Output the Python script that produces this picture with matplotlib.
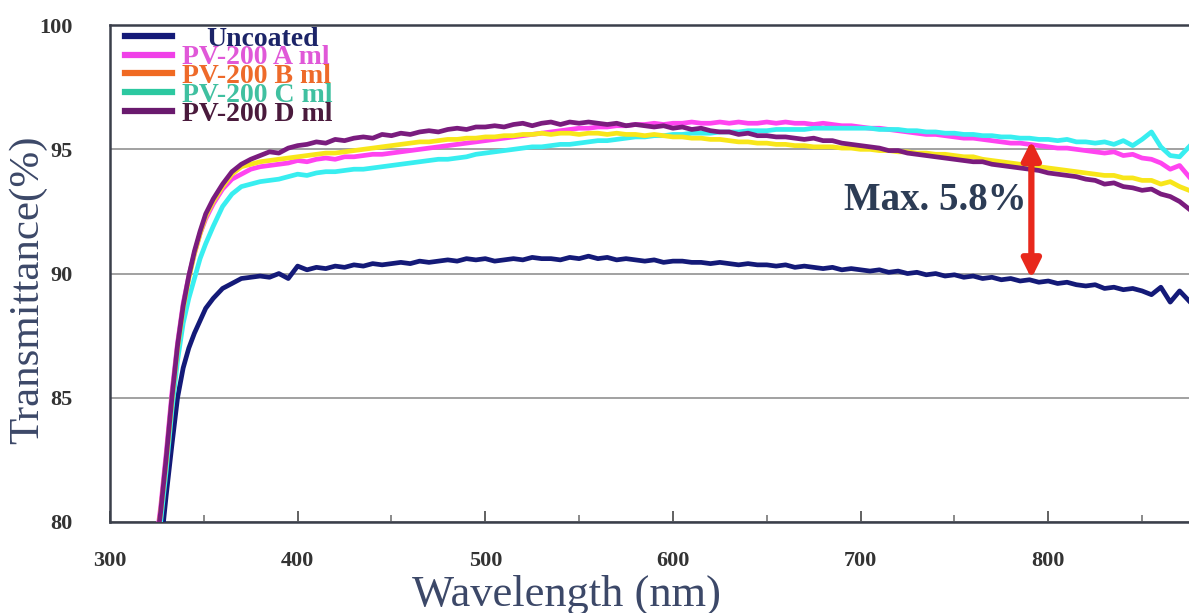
import matplotlib
matplotlib.use('Agg')
import matplotlib.pyplot as plt
from matplotlib.lines import Line2D
from matplotlib.transforms import Affine2D

plt.rcParams['font.family'] = ['Liberation Serif', 'DejaVu Serif']

# wavelength grid (nm): finer steps on the absorption edge, then every 5 nm
WAVELENGTH = [324, 327, 330, 333, 336, 339, 342, 345, 348, 351, 355, 360, 365, 370, 375] + list(range(380, 880, 5))

UNCOATED = [77.0, 78.9, 81.1, 83.1, 85.0, 86.2, 87.0, 87.6, 88.1, 88.6, 89.0, 89.4, 89.6, 89.8, 89.85,
            89.9, 89.85, 90.0, 89.8, 90.3,
            90.15, 90.25, 90.2, 90.3, 90.25, 90.35, 90.3, 90.4, 90.35, 90.4,
            90.45, 90.4, 90.5, 90.45, 90.5, 90.55, 90.5, 90.6, 90.55, 90.6,
            90.5, 90.55, 90.6, 90.55, 90.65, 90.6, 90.6, 90.55, 90.65, 90.6,
            90.7, 90.6, 90.65, 90.55, 90.6, 90.55, 90.5, 90.55, 90.45, 90.5,
            90.5, 90.45, 90.45, 90.4, 90.45, 90.4, 90.35, 90.4, 90.35, 90.35,
            90.3, 90.35, 90.25, 90.3, 90.25, 90.2, 90.25, 90.15, 90.2, 90.15,
            90.1, 90.15, 90.05, 90.1, 90.0, 90.05, 89.95, 90.0, 89.9, 89.95,
            89.85, 89.9, 89.8, 89.85, 89.75, 89.8, 89.7, 89.75, 89.65, 89.7,
            89.6, 89.65, 89.55, 89.5, 89.55, 89.4, 89.45, 89.35, 89.4, 89.3,
            89.15, 89.45, 88.85, 89.3, 88.9]

PV_A = [78.8, 80.6, 82.8, 85.2, 87.2, 88.8, 89.9, 90.8, 91.6, 92.2, 92.8, 93.4, 93.8, 94.0, 94.2,
        94.3, 94.35, 94.4, 94.45, 94.55,
        94.5, 94.6, 94.65, 94.6, 94.7, 94.7, 94.75, 94.8, 94.8, 94.85,
        94.9, 94.95, 95.0, 95.05, 95.1, 95.15, 95.2, 95.25, 95.3, 95.35,
        95.4, 95.45, 95.5, 95.55, 95.6, 95.65, 95.7, 95.75, 95.8, 95.85,
        95.85, 95.9, 95.9, 95.95, 95.95, 96.0, 96.0, 96.05, 96.0, 96.05,
        96.05, 96.1, 96.05, 96.05, 96.1, 96.05, 96.1, 96.05, 96.05, 96.1,
        96.05, 96.1, 96.05, 96.05, 96.0, 96.05, 96.0, 95.95, 95.95, 95.9,
        95.85, 95.85, 95.8, 95.75, 95.7, 95.65, 95.6, 95.6, 95.55, 95.5,
        95.45, 95.45, 95.4, 95.35, 95.3, 95.25, 95.25, 95.2, 95.15, 95.1,
        95.05, 95.05, 95.0, 94.95, 94.9, 94.85, 94.9, 94.75, 94.8, 94.65,
        94.6, 94.45, 94.2, 94.35, 93.9]

PV_B = [78.6, 80.4, 82.5, 84.9, 87.0, 88.6, 89.8, 90.8, 91.6, 92.3, 92.9, 93.5, 94.0, 94.3, 94.4,
        94.5, 94.55, 94.6, 94.65, 94.7,
        94.75, 94.8, 94.85, 94.85, 94.9, 94.95, 95.0, 95.05, 95.1, 95.15,
        95.2, 95.25, 95.3, 95.3, 95.35, 95.4, 95.4, 95.45, 95.45, 95.5,
        95.5, 95.55, 95.55, 95.6, 95.6, 95.65, 95.6, 95.65, 95.65, 95.6,
        95.65, 95.65, 95.6, 95.65, 95.6, 95.6, 95.55, 95.6, 95.55, 95.5,
        95.5, 95.45, 95.45, 95.4, 95.4, 95.35, 95.3, 95.3, 95.25, 95.25,
        95.2, 95.2, 95.15, 95.15, 95.1, 95.1, 95.1, 95.05, 95.05, 95.0,
        95.0, 94.95, 94.95, 94.9, 94.9, 94.85, 94.85, 94.8, 94.8, 94.75,
        94.7, 94.7, 94.6, 94.55, 94.5, 94.45, 94.4, 94.35, 94.3, 94.25,
        94.2, 94.15, 94.1, 94.05, 94.0, 93.95, 93.95, 93.85, 93.85, 93.75,
        93.75, 93.6, 93.7, 93.5, 93.35]

PV_C = [78.3, 80.0, 82.1, 84.5, 86.5, 88.0, 89.0, 89.8, 90.6, 91.2, 91.9, 92.7, 93.2, 93.5, 93.6,
        93.7, 93.75, 93.8, 93.9, 94.0,
        93.95, 94.05, 94.1, 94.1, 94.15, 94.2, 94.2, 94.25, 94.3, 94.35,
        94.4, 94.45, 94.5, 94.55, 94.6, 94.6, 94.65, 94.7, 94.8, 94.85,
        94.9, 94.95, 95.0, 95.05, 95.1, 95.1, 95.15, 95.2, 95.2, 95.25,
        95.3, 95.35, 95.35, 95.4, 95.45, 95.5, 95.5, 95.55, 95.55, 95.6,
        95.6, 95.65, 95.65, 95.65, 95.7, 95.7, 95.7, 95.75, 95.75, 95.75,
        95.8, 95.8, 95.8, 95.8, 95.85, 95.85, 95.85, 95.85, 95.85, 95.85,
        95.85, 95.8, 95.8, 95.8, 95.75, 95.75, 95.7, 95.7, 95.65, 95.65,
        95.6, 95.6, 95.55, 95.55, 95.5, 95.5, 95.45, 95.45, 95.4, 95.4,
        95.35, 95.4, 95.3, 95.3, 95.25, 95.3, 95.2, 95.35, 95.15, 95.4,
        95.7, 95.1, 94.75, 94.7, 95.1]

PV_D = [78.6, 80.4, 82.6, 85.0, 87.1, 88.7, 89.9, 90.9, 91.7, 92.4, 93.0, 93.6, 94.1, 94.4, 94.6,
        94.75, 94.9, 94.85, 95.05, 95.15,
        95.2, 95.3, 95.25, 95.4, 95.35, 95.45, 95.5, 95.45, 95.6, 95.55,
        95.65, 95.6, 95.7, 95.75, 95.7, 95.8, 95.85, 95.8, 95.9, 95.9,
        95.95, 95.9, 96.0, 96.05, 95.95, 96.05, 96.1, 96.0, 96.1, 96.05,
        96.1, 96.05, 96.0, 96.05, 95.95, 96.0, 95.95, 95.9, 95.95, 95.85,
        95.9, 95.8, 95.85, 95.75, 95.7, 95.7, 95.6, 95.65, 95.55, 95.55,
        95.5, 95.5, 95.45, 95.4, 95.45, 95.35, 95.35, 95.25, 95.2, 95.15,
        95.1, 95.05, 94.95, 94.95, 94.85, 94.8, 94.75, 94.7, 94.65, 94.6,
        94.55, 94.5, 94.5, 94.4, 94.35, 94.3, 94.25, 94.2, 94.15, 94.05,
        94.0, 93.95, 93.9, 93.8, 93.75, 93.6, 93.65, 93.5, 93.45, 93.35,
        93.4, 93.2, 93.1, 92.9, 92.6]

LABELS = ['Uncoated', 'PV-200 A ml', 'PV-200 B ml', 'PV-200 C ml', 'PV-200 D ml']
CURVE_COLORS = ['#141a78', '#ff44f0', '#f8e61a', '#38eef0', '#7a1c7e']
LEGEND_COLORS = ['#141a78', '#f040e8', '#f06a22', '#2cc8a0', '#6a1a6e']
TEXT_COLORS = ['#1c2468', '#e058d8', '#ee6a2a', '#40c0a0', '#4a1a3c']

ARROW_X = 791
ARROW_TOP = 95.35
ARROW_BOTTOM = 89.8

fig = plt.figure(figsize=(11.89, 6.13), dpi=100)
ax = fig.add_axes([0.0925, 0.1485, 0.9075, 0.8105])

series = [UNCOATED, PV_A, PV_C, PV_B, PV_D]
colors = [CURVE_COLORS[0], CURVE_COLORS[1], CURVE_COLORS[3], CURVE_COLORS[2], CURVE_COLORS[4]]
for vals, c in zip(series, colors):
    ax.plot(WAVELENGTH, vals, color=c, lw=3.4, solid_joinstyle='round', zorder=3)

ax.set_xlim(300, 875)
ax.set_ylim(80, 100)
ax.set_xticks([300, 400, 500, 600, 700, 800])
ax.set_xticks([350, 450, 550, 650, 750, 850], minor=True)
ax.set_yticks([80, 85, 90, 95, 100])
ax.set_yticklabels(['80', '85', '90', '95', '100'])
ax.grid(axis='y', color='#9a9a9a', lw=1.3, zorder=1)

for side in ['left', 'bottom', 'top']:
    ax.spines[side].set_color('#3a3f4a')
    ax.spines[side].set_linewidth(1.8)
ax.spines['right'].set_visible(False)

ax.tick_params(axis='x', which='major', direction='in', length=8, width=1.3, color='#555555',
               pad=21, labelsize=16, labelcolor='#333333')
ax.tick_params(axis='x', which='minor', direction='in', length=5, width=1.2, color='#777777')
ax.tick_params(axis='y', length=0, pad=27, labelsize=16, labelcolor='#333333')
for lab in ax.get_xticklabels() + ax.get_yticklabels():
    lab.set_fontweight('bold')

ax.set_xlabel('Wavelength (nm)', fontsize=32, color='#3c4868')
ax.set_ylabel('Transmittance(%)', fontsize=31, color='#3c4868')
ax.xaxis.set_label_coords(0.4235, -0.106)
ax.yaxis.set_label_coords(-0.058, 0.467)

# red double arrow showing the maximum gain
ax.annotate('', xy=(ARROW_X, ARROW_BOTTOM), xytext=(ARROW_X, ARROW_TOP),
            arrowprops=dict(arrowstyle='<|-|>,head_length=1.1,head_width=0.55',
                            color='#e8281c', lw=4.5, shrinkA=0, shrinkB=0), zorder=5)
ax.text(740, 92.95, 'Max. 5.8%', fontsize=28, fontweight='bold', color='#2c3c55',
        ha='center', va='center', zorder=6)

handles = [Line2D([0], [0], color=c, lw=4.5) for c in LEGEND_COLORS]
leg = ax.legend(handles, LABELS, loc='upper left', bbox_to_anchor=(0.014, 0.998),
                frameon=False, prop={'weight': 'bold', 'size': 20},
                handlelength=1.7, handletextpad=0.35, labelspacing=-0.24,
                borderaxespad=0, borderpad=0)
for txt, c in zip(leg.get_texts(), TEXT_COLORS):
    txt.set_color(c)
# the first entry is centred over the longer labels
first = leg.get_texts()[0]
first.set_transform(first.get_transform() + Affine2D().translate(24, 0))

fig.savefig('out.png', dpi=100)
